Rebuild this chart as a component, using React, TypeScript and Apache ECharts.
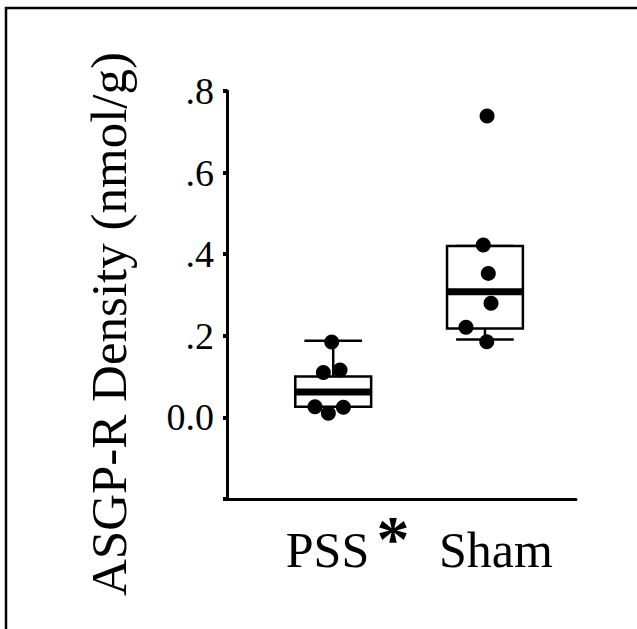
import React, { useEffect, useRef } from "react";
import * as echarts from "echarts";

// Groups and tick labels
const categories = ["PSS", "Sham"];
const yTicks = [-0.2, 0, 0.2, 0.4, 0.6, 0.8];
const yTickLabels = ["", "0.0", ".2", ".4", ".6", ".8"];

// Box summaries: [min, Q1, median, Q3, max]
const pssBox = [0.026, 0.026, 0.062, 0.1, 0.188];
const shamBox = [0.191, 0.218, 0.308, 0.42, 0.42];

// Individual points (values) and their horizontal jitter (in group units)
const pssValues = [0.185, 0.11, 0.116, 0.026, 0.01, 0.025];
const pssJitter = [-0.01, -0.065, 0.045, -0.12, -0.032, 0.067];
const shamValues = [0.739, 0.4225, 0.353, 0.28, 0.221, 0.1855];
const shamJitter = [0.014, -0.011, 0.022, 0.04, -0.125, 0.012];

const FONT = "Liberation Serif";

export default function App() {
  const ref = useRef<HTMLDivElement>(null);

  useEffect(() => {
    if (!ref.current) return;
    const chart = echarts.init(ref.current, undefined, { renderer: "svg" });

    const boxData = [
      [1, ...pssBox],
      [2, ...shamBox],
    ];
    const pointData: number[][] = [];
    pssValues.forEach((v, i) => pointData.push([1 + pssJitter[i], v]));
    shamValues.forEach((v, i) => pointData.push([2 + shamJitter[i], v]));

    const BOX_HALF = 0.25;
    const CAP_HALF = 0.19;
    const X_MIN = 0.3;

    const baseGraphic: any[] = [
      {
        id: "frame",
        type: "rect",
        shape: { x: 6, y: 8, width: 700, height: 700 },
        style: { fill: "none", stroke: "#000", lineWidth: 2.5 },
        z: 0,
        silent: true,
      },
      {
        id: "ytitle",
        type: "text",
        x: 109,
        y: 324,
        rotation: Math.PI / 2,
        style: {
          text: "ASGP-R Density (nmol/g)",
          fontFamily: FONT,
          fontSize: 51,
          fill: "#000",
          align: "center",
          verticalAlign: "middle",
        },
      },
      {
        id: "cat0",
        type: "text",
        x: 327.5,
        y: 549.5,
        style: {
          text: categories[0],
          fontFamily: FONT,
          fontSize: 50,
          fill: "#000",
          align: "center",
          verticalAlign: "middle",
        },
      },
      {
        id: "star",
        type: "text",
        x: 393,
        y: 538,
        style: {
          text: "*",
          fontFamily: FONT,
          fontSize: 66,
          fontWeight: "bold",
          fill: "#000",
          align: "center",
          verticalAlign: "middle",
        },
      },
      {
        id: "cat1",
        type: "text",
        x: 496,
        y: 549.5,
        style: {
          text: categories[1],
          fontFamily: FONT,
          fontSize: 50,
          fill: "#000",
          align: "center",
          verticalAlign: "middle",
        },
      },
    ];

    const option: any = {
      animation: false,
      backgroundColor: "#ffffff",
      grid: { left: 227, right: 61, top: 91, bottom: 130, containLabel: false },
      xAxis: {
        type: "value",
        min: X_MIN,
        max: 2.6,
        splitLine: { show: false },
        axisTick: { show: false },
        axisLabel: { show: false },
        axisLine: { show: true, onZero: false, lineStyle: { color: "#000", width: 3 } },
      },
      yAxis: {
        type: "value",
        min: yTicks[0],
        max: yTicks[yTicks.length - 1],
        interval: 0.2,
        splitLine: { show: false },
        axisLine: { show: true, lineStyle: { color: "#000", width: 3 } },
        axisTick: { show: true, length: 4, lineStyle: { color: "#000", width: 4 } },
        axisLabel: { show: false },
      },
      series: [
        {
          type: "custom",
          data: boxData,
          z: 2,
          renderItem: (params: any, api: any) => {
            const x = api.value(0);
            const mn = api.value(1);
            const q1 = api.value(2);
            const md = api.value(3);
            const q3 = api.value(4);
            const mx = api.value(5);
            const pL = api.coord([x - BOX_HALF, q3]);
            const pR = api.coord([x + BOX_HALF, q1]);
            const c = api.coord([x, md]);
            const capL = api.coord([x - CAP_HALF, mx])[0];
            const capR = api.coord([x + CAP_HALF, mx])[0];
            const yMax = api.coord([x, mx])[1];
            const yMin = api.coord([x, mn])[1];
            const yQ1 = pR[1];
            const yQ3 = pL[1];
            const ls = { stroke: "#000", lineWidth: 2.5, fill: "none" };
            return {
              type: "group",
              children: [
                { type: "line", shape: { x1: c[0], y1: yQ3, x2: c[0], y2: yMax }, style: ls },
                { type: "line", shape: { x1: capL, y1: yMax, x2: capR, y2: yMax }, style: ls },
                { type: "line", shape: { x1: c[0], y1: yQ1, x2: c[0], y2: yMin }, style: ls },
                { type: "line", shape: { x1: capL, y1: yMin, x2: capR, y2: yMin }, style: ls },
                {
                  type: "rect",
                  shape: { x: pL[0], y: yQ3, width: pR[0] - pL[0], height: yQ1 - yQ3 },
                  style: { stroke: "#000", lineWidth: 2.5, fill: "#fff" },
                },
                {
                  type: "line",
                  shape: { x1: pL[0], y1: c[1], x2: pR[0], y2: c[1] },
                  style: { stroke: "#000", lineWidth: 7 },
                },
              ],
            };
          },
        },
        {
          type: "scatter",
          data: pointData,
          symbol: "circle",
          symbolSize: 15,
          z: 3,
          itemStyle: { color: "#000", opacity: 1 },
        },
      ],
      graphic: baseGraphic,
    };

    chart.setOption(option);

    // Tick labels placed through the axis scale
    const tickGraphic = yTicks
      .map((v, i) => {
        const p = chart.convertToPixel({ gridIndex: 0 }, [X_MIN, v]) as number[];
        return {
          id: "ytick" + i,
          type: "text",
          x: p[0] - 13,
          y: p[1],
          style: {
            text: yTickLabels[i],
            fontFamily: FONT,
            fontSize: 38,
            fill: "#000",
            align: "right",
            verticalAlign: "middle",
          },
        };
      })
      .filter((g) => g.style.text !== "");
    chart.setOption({ graphic: [...baseGraphic, ...tickGraphic] });

    return () => chart.dispose();
  }, []);

  return (
    <div
      ref={ref}
      style={{ position: "fixed", left: 0, top: 0, width: 637, height: 629, background: "#fff" }}
    />
  );
}
